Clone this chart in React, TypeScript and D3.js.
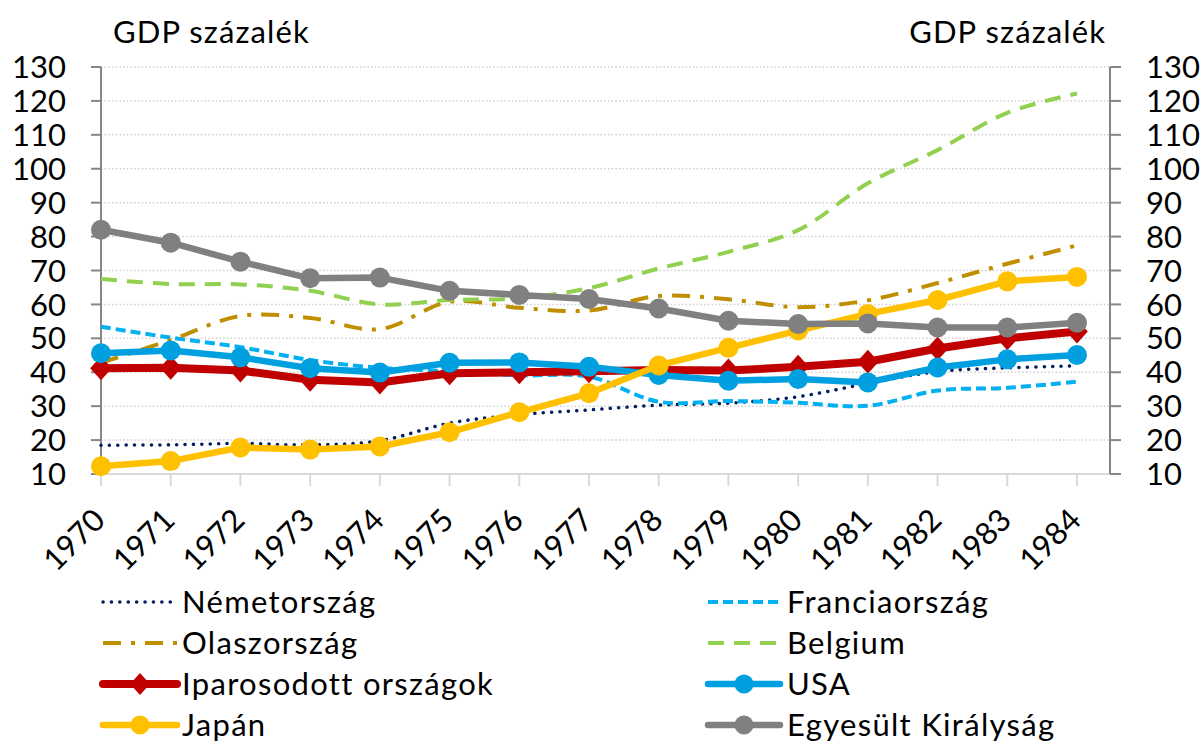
import React from "react";
import * as d3 from "d3";

const years = ["1970","1971","1972","1973","1974","1975","1976","1977","1978","1979","1980","1981","1982","1983","1984"];
const yTicks = [10,20,30,40,50,60,70,80,90,100,110,120,130];
const axisTitle = "GDP százalék";

const germany = [18.5, 18.6, 19.0, 18.6, 19.8, 25.0, 27.5, 28.9, 30.3, 30.9, 32.8, 36.7, 40.2, 41.3, 41.9];
const france = [53.4, 50.2, 47.4, 43.6, 41.3, 40.3, 39.1, 38.7, 31.3, 31.5, 31.0, 30.1, 34.6, 35.4, 37.2];
const italy = [42.8, 49.5, 56.6, 56.0, 52.7, 60.8, 59.0, 58.2, 62.5, 61.5, 59.2, 61.2, 66.3, 72.0, 77.4];
const belgium = [67.5, 66.0, 65.9, 64.0, 60.0, 61.3, 61.8, 64.8, 70.6, 75.5, 81.9, 95.7, 105.5, 116.5, 122.2];
const industrial = [41.2, 41.3, 40.5, 37.8, 37.0, 39.7, 40.0, 40.3, 40.7, 40.5, 41.6, 43.1, 47.0, 50.0, 52.0];
const usa = [45.6, 46.4, 44.4, 41.2, 39.9, 42.8, 42.9, 41.6, 39.2, 37.5, 38.0, 37.0, 41.4, 43.8, 45.1];
const japan = [12.3, 13.8, 17.8, 17.2, 18.1, 22.3, 28.2, 33.8, 42.0, 47.2, 52.3, 57.2, 61.3, 66.8, 68.1];
const uk = [82.0, 78.2, 72.6, 67.7, 67.9, 64.0, 62.8, 61.6, 58.8, 55.2, 54.2, 54.4, 53.2, 53.2, 54.6];

type S = {
  name: string; values: number[]; color: string; width: number; dash?: string;
  cap?: string; marker?: "circle" | "diamond"; smooth?: boolean;
};

const series: S[] = [
  { name: "Németország", values: germany, color: "#002060", width: 3.5, dash: "0.1 8.3", cap: "round", smooth: true },
  { name: "Franciaország", values: france, color: "#00b0f0", width: 4, dash: "10 5", smooth: true },
  { name: "Olaszország", values: italy, color: "#bf8f00", width: 4, dash: "18 10 4 10", smooth: true },
  { name: "Belgium", values: belgium, color: "#92d050", width: 4, dash: "16 10", smooth: true },
  { name: "Iparosodott országok", values: industrial, color: "#c00000", width: 8, marker: "diamond" },
  { name: "USA", values: usa, color: "#009fdf", width: 6.5, marker: "circle" },
  { name: "Japán", values: japan, color: "#ffc000", width: 6.5, marker: "circle" },
  { name: "Egyesült Királyság", values: uk, color: "#808080", width: 6.5, marker: "circle" },
];

const FONT = "Lato, 'Noto Sans', sans-serif";

export default function App() {
  const W = 1204, H = 742;
  const left = 101, right = 1110, top = 67, bottom = 474;
  const x = d3.scalePoint<string>().domain(years).range([101, 1077]);
  const y = d3.scaleLinear().domain([10, 130]).range([bottom, top]);

  const lineLinear = d3.line<number>().x((_, i) => x(years[i])!).y(d => y(d));
  const lineSmooth = d3.line<number>().x((_, i) => x(years[i])!).y(d => y(d)).curve(d3.curveCatmullRom.alpha(0.5));

  const diamond = (cx: number, cy: number, r: number) =>
    `M${cx},${cy - r}L${cx + r * 0.9},${cy}L${cx},${cy + r}L${cx - r * 0.9},${cy}Z`;

  const legendRows = [602, 643, 684, 725];
  const legendCols = [{ x1: 103, x2: 177, tx: 182 }, { x1: 708, x2: 780, tx: 787 }];

  return (
    <svg width={W} height={H} style={{ position: "absolute", left: 0, top: 0, background: "#fff" }} fontFamily={FONT}>
      {/* gridlines */}
      {yTicks.filter(t => t > 10).map(t => (
        <line key={"g" + t} x1={left} x2={right} y1={y(t)} y2={y(t)} stroke="#cfcfcf" strokeWidth={1.5} strokeDasharray="1.5 2.2" />
      ))}
      {/* bottom axis */}
      <line x1={left} x2={right} y1={bottom} y2={bottom} stroke="#d9d9d9" strokeWidth={2} />
      {years.map(yr => (
        <line key={"xt" + yr} x1={x(yr)} x2={x(yr)} y1={bottom} y2={bottom + 12} stroke="#d9d9d9" strokeWidth={2} />
      ))}
      {/* left axis */}
      <line x1={left} x2={left} y1={top} y2={bottom} stroke="#868686" strokeWidth={2} />
      {yTicks.map(t => (
        <g key={"yl" + t}>
          <line x1={left - 10} x2={left} y1={y(t)} y2={y(t)} stroke="#868686" strokeWidth={2} />
          <text x={66} y={y(t)} dy="0.36em" textAnchor="end" fontSize={31} fill="#000">{t}</text>
        </g>
      ))}
      {/* right axis */}
      <line x1={right} x2={right} y1={top} y2={bottom} stroke="#868686" strokeWidth={2} />
      {yTicks.map(t => (
        <g key={"yr" + t}>
          <line x1={right} x2={right + 11} y1={y(t)} y2={y(t)} stroke="#868686" strokeWidth={2} />
          <text x={1146} y={y(t)} dy="0.36em" textAnchor="start" fontSize={31} fill="#000">{t}</text>
        </g>
      ))}
      {/* titles */}
      <text x={113} y={43} fontSize={31} letterSpacing={1.1} fill="#000">{axisTitle}</text>
      <text x={1106} y={43} fontSize={31} letterSpacing={1.1} textAnchor="end" fill="#000">{axisTitle}</text>
      {/* x labels */}
      {years.map(yr => (
        <text key={"xl" + yr} transform={`translate(${x(yr)! + 6},522) rotate(-45)`} textAnchor="end" fontSize={31} fill="#000">{yr}</text>
      ))}
      {/* series */}
      {series.map(s => (
        <g key={s.name}>
          <path d={(s.smooth ? lineSmooth : lineLinear)(s.values) || ""} fill="none" stroke={s.color}
            strokeWidth={s.width} strokeDasharray={s.dash} strokeLinecap={(s.cap as any) || "butt"} strokeLinejoin="round" />
          {s.marker === "circle" && s.values.map((v, i) => (
            <circle key={i} cx={x(years[i])} cy={y(v)} r={10} fill={s.color} />
          ))}
          {s.marker === "diamond" && s.values.map((v, i) => (
            <path key={i} d={diamond(x(years[i])!, y(v), 12)} fill={s.color} />
          ))}
        </g>
      ))}
      {/* legend */}
      {series.map((s, i) => {
        const col = legendCols[i % 2];
        const ry = legendRows[Math.floor(i / 2)];
        const cx = (col.x1 + col.x2) / 2;
        return (
          <g key={"lg" + s.name}>
            <line x1={col.x1} x2={col.x2} y1={ry} y2={ry} stroke={s.color} strokeWidth={s.width}
              strokeDasharray={s.dash} strokeLinecap={s.marker ? "round" : ((s.cap as any) || "butt")} />
            {s.marker === "circle" && <circle cx={cx} cy={ry} r={9.5} fill={s.color} />}
            {s.marker === "diamond" && <path d={diamond(cx, ry, 11)} fill={s.color} />}
            <text x={col.tx} y={ry} dy="0.36em" fontSize={31} letterSpacing={1.3} fill="#000">{s.name}</text>
          </g>
        );
      })}
    </svg>
  );
}
